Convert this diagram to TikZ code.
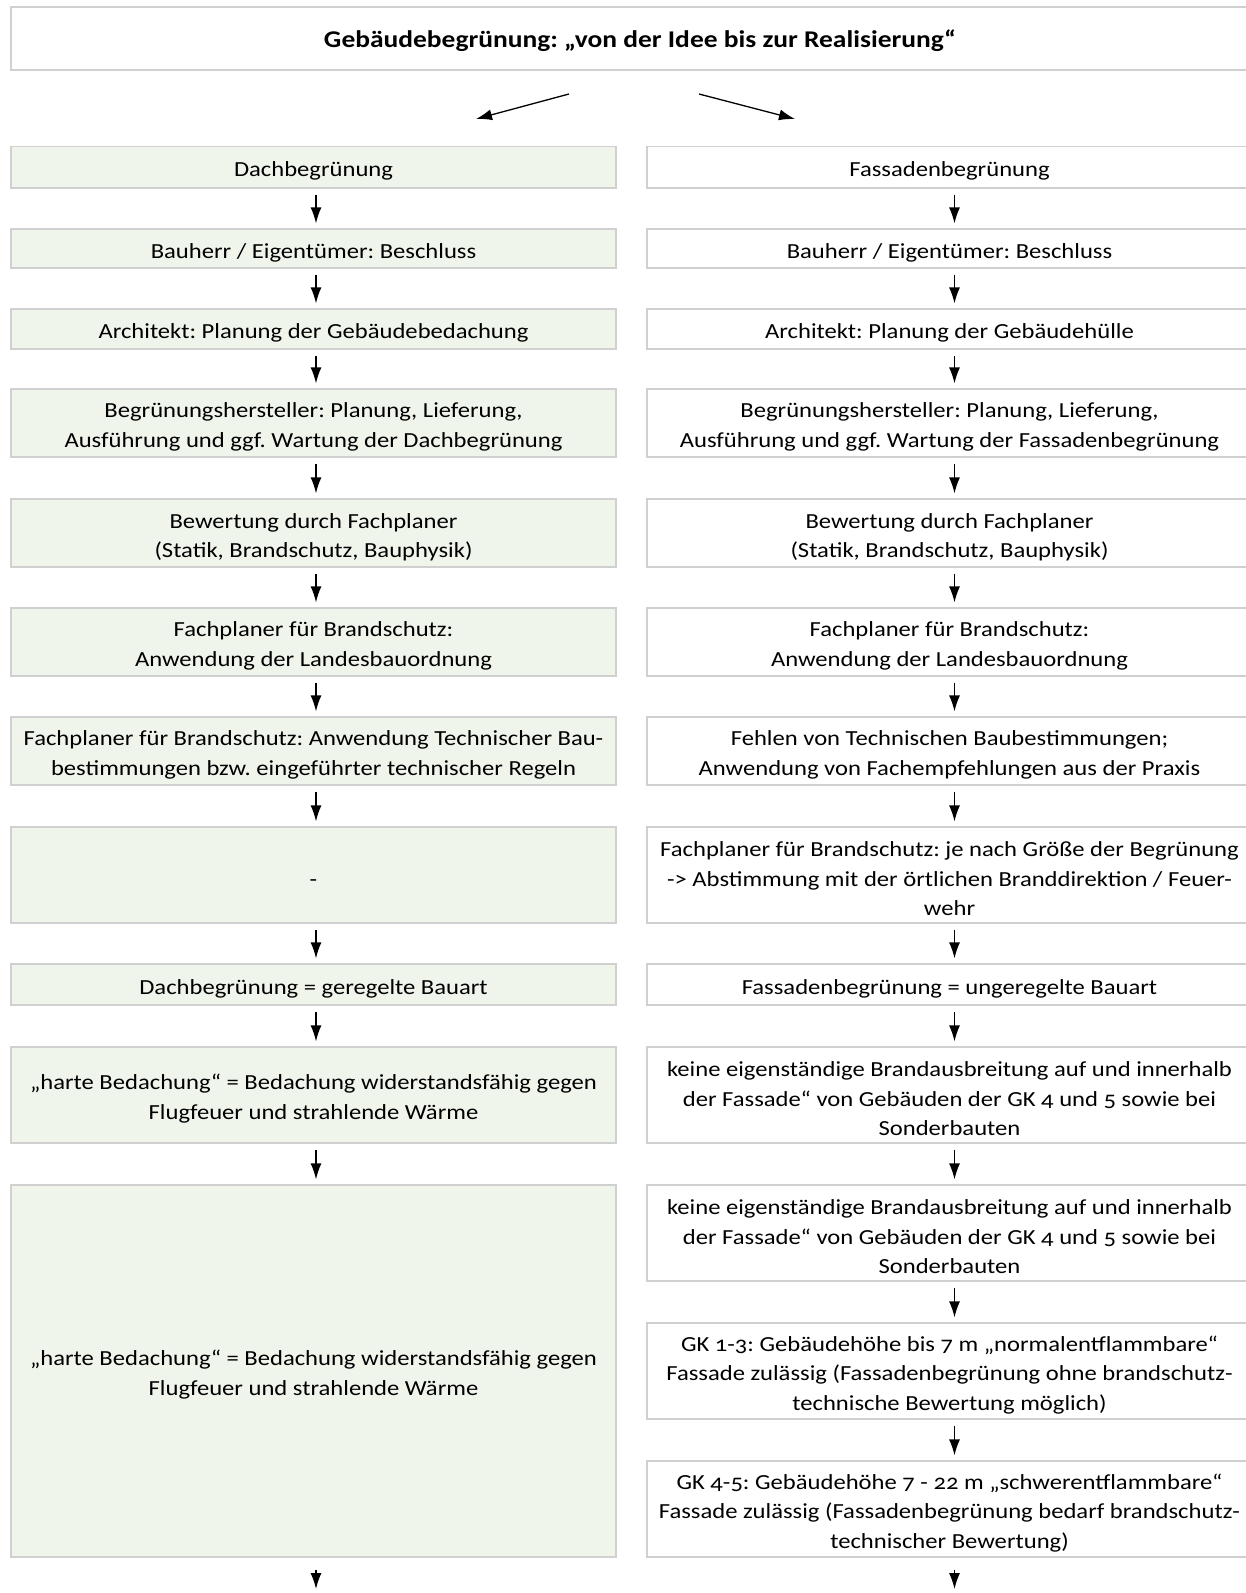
\documentclass[tikz,border=0pt]{standalone}
\usepackage{fontspec}
\setmainfont{Carlito}[Numbers=OldStyle,FakeStretch=1.145]
\usetikzlibrary{arrows.meta}
\definecolor{dgreen}{RGB}{240,245,236}
\definecolor{boxgray}{RGB}{208,208,208}
\newcommand{\fs}{\fontsize{21.5}{29.5}\selectfont\frenchspacing}
\newcommand{\st}{\rule{0pt}{23pt}}
\tikzset{
  base/.style={draw=boxgray, line width=1.3pt, align=center, inner sep=0pt, font=\fs, text=black},
  lbox/.style={base, fill=dgreen, minimum width=605pt},
  rbox/.style={base, fill=white, minimum width=605pt},
  arr/.style={-{Latex[length=16pt,width=11pt]}, line width=1.3pt},
}
\begin{document}
\begin{tikzpicture}[x=1pt,y=-1pt]
\useasboundingbox[fill=white] (0,0) rectangle (1246,1593);
\node[base, minimum width=1258pt, minimum height=63pt, font=\fontsize{24}{30}\selectfont\bfseries\frenchspacing] (title) at (640,38.5)
  {\rule{0pt}{22pt}Gebäudebegrünung: „von der Idee bis zur Realisierung“};
% left column
\node[lbox, minimum height=41.5pt] (l1) at (313.5,167.25) {\st Dachbegrünung};
\node[lbox, minimum height=39pt] (l2) at (313.5,248.5) {\st Bauherr / Eigentümer: Beschluss};
\node[lbox, minimum height=40pt] (l3) at (313.5,329) {\st Architekt: Planung der Gebäudebedachung};
\node[lbox, minimum height=68pt] (l4) at (313.5,423) {\st Begrünungshersteller: Planung, Lieferung,\\Ausführung und ggf. Wartung der Dachbegrünung};
\node[lbox, minimum height=68pt] (l5) at (313.5,533) {\st Bewertung durch Fachplaner\\(Statik, Brandschutz, Bauphysik)};
\node[lbox, minimum height=68pt] (l6) at (313.5,642) {\st Fachplaner für Brandschutz:\\Anwendung der Landesbauordnung};
\node[lbox, minimum height=68pt] (l7) at (313.5,751) {\st Fachplaner für Brandschutz: Anwendung Technischer Bau-\\bestimmungen bzw. eingeführter technischer Regeln};
\node[lbox, minimum height=96pt] (l8) at (313.5,875) {\st -};
\node[lbox, minimum height=41pt] (l9) at (313.5,984.5) {\st Dachbegrünung = geregelte Bauart};
\node[lbox, minimum height=96pt] (l10) at (313.5,1095) {\st „harte Bedachung“ = Bedachung widerstandsfähig gegen\\Flugfeuer und strahlende Wärme};
\node[lbox, minimum height=372pt] (l11) at (313.5,1371) {\st „harte Bedachung“ = Bedachung widerstandsfähig gegen\\Flugfeuer und strahlende Wärme};
% right column
\node[rbox, minimum height=41.5pt] (r1) at (949.5,167.25) {\st Fassadenbegrünung};
\node[rbox, minimum height=39pt] (r2) at (949.5,248.5) {\st Bauherr / Eigentümer: Beschluss};
\node[rbox, minimum height=40pt] (r3) at (949.5,329) {\st Architekt: Planung der Gebäudehülle};
\node[rbox, minimum height=68pt] (r4) at (949.5,423) {\st Begrünungshersteller: Planung, Lieferung,\\Ausführung und ggf. Wartung der Fassadenbegrünung};
\node[rbox, minimum height=68pt] (r5) at (949.5,533) {\st Bewertung durch Fachplaner\\(Statik, Brandschutz, Bauphysik)};
\node[rbox, minimum height=68pt] (r6) at (949.5,642) {\st Fachplaner für Brandschutz:\\Anwendung der Landesbauordnung};
\node[rbox, minimum height=68pt] (r7) at (949.5,751) {\st Fehlen von Technischen Baubestimmungen;\\Anwendung von Fachempfehlungen aus der Praxis};
\node[rbox, minimum height=96pt] (r8) at (949.5,875) {\st Fachplaner für Brandschutz: je nach Größe der Begrünung\\-> Abstimmung mit der örtlichen Branddirektion / Feuer-\\wehr};
\node[rbox, minimum height=41pt] (r9) at (949.5,984.5) {\st Fassadenbegrünung = ungeregelte Bauart};
\node[rbox, minimum height=96pt] (r10) at (949.5,1095) {\st keine eigenständige Brandausbreitung auf und innerhalb\\der Fassade“ von Gebäuden der GK 4 und 5 sowie bei\\Sonderbauten};
\node[rbox, minimum height=96pt] (r11) at (949.5,1233) {\st keine eigenständige Brandausbreitung auf und innerhalb\\der Fassade“ von Gebäuden der GK 4 und 5 sowie bei\\Sonderbauten};
\node[rbox, minimum height=96pt] (r12) at (949.5,1371) {\st GK 1-3: Gebäudehöhe bis 7 m „normalentflammbare“\\Fassade zulässig (Fassadenbegrünung ohne brandschutz-\\technische Bewertung möglich)};
\node[rbox, minimum height=96pt] (r13) at (949.5,1509) {\st GK 4-5: Gebäudehöhe 7 - 22 m „schwerentflammbare“\\Fassade zulässig (Fassadenbegrünung bedarf brandschutz-\\technischer Bewertung)};
% top arrows
\coordinate (tls) at (569,94);
\coordinate (tle) at (476,119);
\coordinate (trs) at (699,94);
\coordinate (tre) at (795,119);
\draw[arr] (tls) -- (tle);
\draw[arr] (trs) -- (tre);
% column arrows
\foreach \a/\b in {l1/l2,l2/l3,l3/l4,l4/l5,l5/l6,l6/l7,l7/l8,l8/l9,l9/l10,l10/l11}
  \draw[arr] ([xshift=2.5pt,yshift=-6pt]\a.south) -- ([xshift=2.5pt,yshift=5pt]\b.north);
\foreach \a/\b in {r1/r2,r2/r3,r3/r4,r4/r5,r5/r6,r6/r7,r7/r8,r8/r9,r9/r10,r10/r11,r11/r12,r12/r13}
  \draw[arr] ([xshift=5pt,yshift=-6pt]\a.south) -- ([xshift=5pt,yshift=5pt]\b.north);
% bottom arrows
\coordinate (lend) at (316,1589);
\coordinate (rend) at (954.5,1589);
\draw[arr] ([xshift=2.5pt,yshift=-12pt]l11.south) -- (lend);
\draw[arr] ([xshift=5pt,yshift=-12pt]r13.south) -- (rend);
\end{tikzpicture}
\end{document}
